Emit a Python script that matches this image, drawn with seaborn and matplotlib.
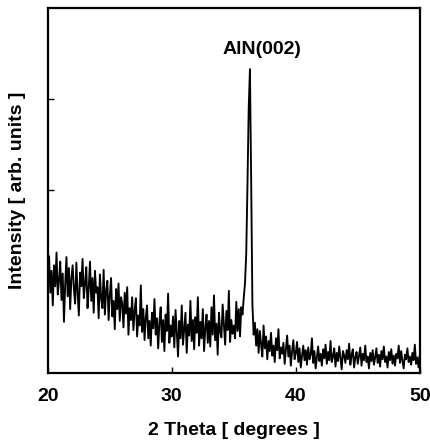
import numpy as np
import pandas as pd
import matplotlib
matplotlib.use("Agg")
import matplotlib.pyplot as plt
import seaborn as sns

# XRD scan, 20-50 deg, 0.1 deg step; intensities (arb. units)
theta_start, theta_step = 20.0, 0.1
intensity = [
    # 20.x
    105, 128, 88, 112, 74, 118, 95, 132, 86, 101,
    # 21.x
    122, 80, 109, 56, 97, 127, 84, 115, 70, 104,
    # 22.x
    118, 92, 76, 121, 88, 63, 110, 95, 125, 82,
    # 23.x
    98, 116, 71, 93, 122, 79, 104, 66, 112, 88,
    # 24.x
    94, 60, 108, 82, 71, 113, 64, 90, 101, 58,
    # 25.x
    85, 104, 62, 79, 48, 92, 70, 98, 57, 83,
    # 26.x
    76, 50, 88, 65, 94, 42, 71, 58, 83, 47,
    # 27.x
    68, 82, 40, 63, 52, 96, 45, 70, 36, 61,
    # 28.x
    74, 38, 57, 30, 66, 49, 81, 42, 60, 27,
    # 29.x
    55, 72, 34, 58, 24, 64, 46, 87, 33, 52,
    # 30.x
    40, 62, 28, 69, 45, 18, 57, 38, 74, 31,
    # 31.x
    48, 66, 22, 53, 41, 79, 35, 58, 26, 61,
    # 32.x
    44, 83, 30, 56, 38, 70, 24, 49, 64, 33,
    # 33.x
    57, 29, 72, 42, 85, 36, 54, 20, 66, 45,
    # 34.x
    39, 75, 52, 31, 68, 47, 90, 34, 58, 43,
    # 35.x
    52, 38, 78, 46, 70, 40, 72, 64, 82, 98,
    # 36.x  AlN(002) reflection
    130, 205, 290, 333, 210, 75, 42, 55, 30, 48,
    # 37.x
    22, 46, 31, 18, 52, 27, 40, 15, 35, 24,
    # 38.x
    44, 19, 30, 12, 38, 25, 48, 16, 28, 21,
    # 39.x
    33, 10, 26, 41, 18, 30, 8, 24, 36, 15,
    # 40.x
    22, 34, 12, 27, 6, 19, 30, 14, 25, 9,
    # 41.x
    28, 15, 20, 38, 11, 24, 5, 17, 29, 13,
    # 42.x
    21, 8, 26, 16, 31, 10, 23, 14, 35, 12,
    # 43.x
    18, 27, 7, 22, 13, 29, 16, 4, 24, 19,
    # 44.x
    11, 25, 15, 32, 9, 20, 26, 6, 17, 23,
    # 45.x
    10, 19, 28, 8, 21, 14, 30, 12, 18, 5,
    # 46.x
    22, 13, 25, 9, 17, 27, 11, 20, 7, 24,
    # 47.x
    15, 29, 12, 18, 6, 23, 14, 26, 10, 19,
    # 48.x
    8, 21, 16, 30, 11, 24, 13, 5, 20, 15,
    # 49.x
    27, 12, 18, 9, 22, 14, 31, 10, 17, 6,
    # 50.0
    20,
]
two_theta = np.round(theta_start + theta_step * np.arange(len(intensity)), 2)

peak_label = "AlN(002)"
x_ticks = [20, 30, 40, 50]
y_ticks = [100, 200, 300]

df = pd.DataFrame({"two_theta": two_theta, "intensity": intensity})

sns.set_style("ticks")
plt.rcParams["font.family"] = ["Liberation Sans", "DejaVu Sans"]
plt.rcParams["font.weight"] = "bold"
plt.rcParams["text.color"] = "black"
plt.rcParams["axes.labelcolor"] = "black"
plt.rcParams["xtick.color"] = "black"
plt.rcParams["ytick.color"] = "black"

fig = plt.figure(figsize=(4.31, 4.44), dpi=100)
ax = fig.add_axes([0.111, 0.160, 0.863, 0.822])

sns.lineplot(data=df, x="two_theta", y="intensity", color="black",
             linewidth=1.35, estimator=None, sort=False, ax=ax)

ax.set_xlim(20, 50)
ax.set_ylim(0, 400)
ax.set_xticks(x_ticks)
ax.set_xticklabels([str(t) for t in x_ticks], fontsize=14, fontweight="bold")
ax.set_yticks(y_ticks)
ax.set_yticklabels([])
ax.tick_params(direction="in", length=4, width=1.0, pad=11)

ax.set_xlabel("2 Theta [ degrees ]", fontsize=14, fontweight="bold", labelpad=12)
ax.set_ylabel("Intensity [ arb. units ]", fontsize=14, fontweight="bold")
ax.yaxis.set_label_coords(-0.058, 0.5)

ax.text(37.3, 355, peak_label, ha="center", va="center",
        fontsize=14, fontweight="bold")

for side in ["left", "right", "top", "bottom"]:
    ax.spines[side].set_linewidth(1.6)
    ax.spines[side].set_color("black")

fig.savefig("out.png", dpi=100)
